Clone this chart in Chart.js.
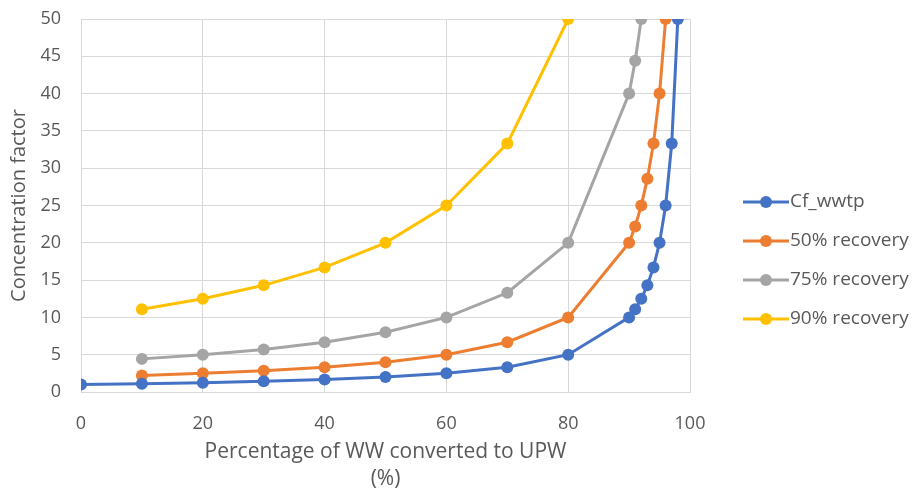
<!DOCTYPE html>
<html>
<head>
<meta charset="utf-8">
<script src="https://cdn.jsdelivr.net/npm/chart.js@4"></script>
<style>
html,body{margin:0;padding:0;background:#fff;}
#wrap{width:918px;height:498px;position:relative;}
</style>
</head>
<body>
<div id="wrap"><canvas id="c" width="918" height="498"></canvas></div>
<script>
// Data
const xWwtp = [0,10,20,30,40,50,60,70,80,90,91,92,93,94,95,96,97,98];
const yWwtp = [1,1.11,1.25,1.43,1.67,2,2.5,3.33,5,10,11.1,12.5,14.3,16.7,20,25,33.3,50];
const x50 = [10,20,30,40,50,60,70,80,90,91,92,93,94,95,96];
const y50 = [2.22,2.5,2.86,3.33,4,5,6.67,10,20,22.2,25,28.6,33.3,40,50];
const x75 = [10,20,30,40,50,60,70,80,90,91,92];
const y75 = [4.44,5,5.71,6.67,8,10,13.3,20,40,44.4,50];
const x90 = [10,20,30,40,50,60,70,80];
const y90 = [11.1,12.5,14.3,16.7,20,25,33.3,50];
const seriesNames = ['Cf_wwtp','50% recovery','75% recovery','90% recovery'];
const seriesColors = ['#4472C4','#ED7D31','#A5A5A5','#FFC000'];
const xTitle = ['Percentage of WW converted to UPW','(%)'];
const yTitle = 'Concentration factor';

const FONT = "'Open Sans', sans-serif";
const TXT = '#595959';

function pts(xs, ys){ return xs.map((x,i)=>({x:x,y:ys[i]})); }
const seriesData = [pts(xWwtp,yWwtp), pts(x50,y50), pts(x75,y75), pts(x90,y90)];

const datasets = seriesData.map((d,i)=>({
  label: seriesNames[i],
  data: d,
  borderColor: seriesColors[i],
  backgroundColor: seriesColors[i],
  borderWidth: 3,
  pointRadius: 6,
  pointHoverRadius: 6,
  pointBorderWidth: 0,
  showLine: true,
  tension: 0
}));

const legendPlugin = {
  id: 'customLegend',
  afterDraw(chart){
    const ctx = chart.ctx;
    ctx.save();
    chart.data.datasets.forEach((ds,i)=>{
      const y = 202 + i*39;
      ctx.strokeStyle = ds.borderColor;
      ctx.lineWidth = 3;
      ctx.beginPath(); ctx.moveTo(743,y); ctx.lineTo(789,y); ctx.stroke();
      ctx.fillStyle = ds.borderColor;
      ctx.beginPath(); ctx.arc(766,y,6,0,Math.PI*2); ctx.fill();
      ctx.fillStyle = TXT;
      ctx.font = "19px " + FONT;
      ctx.textAlign = 'left';
      ctx.textBaseline = 'middle';
      ctx.fillText(ds.label, 790, y);
    });
    ctx.restore();
  }
};

new Chart(document.getElementById('c'), {
  type: 'scatter',
  data: { datasets: datasets },
  options: {
    responsive: false,
    animation: false,
    layout: { padding: { top: 19, right: 228, left: 0, bottom: 0 } },
    plugins: { legend: { display: false }, tooltip: { enabled: false } },
    scales: {
      x: {
        type: 'linear', min: 0, max: 100,
        afterFit(s){ s.height = 106; },
        ticks: { stepSize: 20, color: TXT, font: { family: FONT, size: 18 }, padding: 21 },
        grid: { color: '#d9d9d9', lineWidth: 1, drawTicks: false },
        border: { color: '#d9d9d9' },
        title: { display: true, text: xTitle, color: TXT, font: { family: FONT, size: 21, lineHeight: 1.286 }, padding: { top: 0, bottom: 5 } }
      },
      y: {
        type: 'linear', min: 0, max: 50,
        afterFit(s){ s.width = 81; s.paddingTop = 0; s.paddingBottom = 0; },
        ticks: { stepSize: 5, color: TXT, font: { family: FONT, size: 18 }, padding: 20 },
        grid: { color: '#d9d9d9', lineWidth: 1, drawTicks: false },
        border: { color: '#d9d9d9' },
        title: { display: true, text: yTitle, color: TXT, font: { family: FONT, size: 20, lineHeight: 1.2 }, padding: { top: 7, bottom: 0 } }
      }
    }
  },
  plugins: [legendPlugin]
});
</script>
</body>
</html>
